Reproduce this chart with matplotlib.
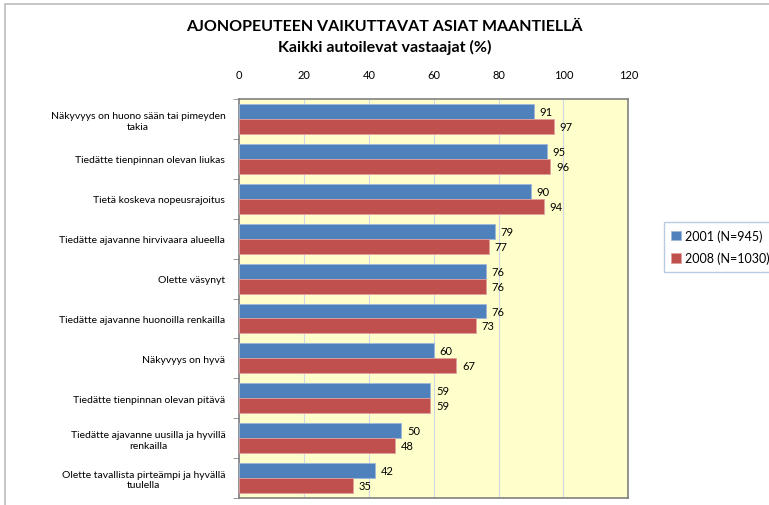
import matplotlib.pyplot as plt
import numpy as np

plt.rcParams['font.family'] = ['Lato', 'DejaVu Sans']

# data
categories = ['Näkyvyys on huono sään tai pimeyden\ntakia',
              'Tiedätte tienpinnan olevan liukas',
              'Tietä koskeva nopeusrajoitus',
              'Tiedätte ajavanne hirvivaara alueella',
              'Olette väsynyt',
              'Tiedätte ajavanne huonoilla renkailla',
              'Näkyvyys on hyvä',
              'Tiedätte tienpinnan olevan pitävä',
              'Tiedätte ajavanne uusilla ja hyvillä\nrenkailla',
              'Olette tavallista pirteämpi ja hyvällä\ntuulella']
values_2001 = [91, 95, 90, 79, 76, 76, 60, 59, 50, 42]
values_2008 = [97, 96, 94, 77, 76, 73, 67, 59, 48, 35]
series_names = ['2001 (N=945)', '2008 (N=1030)']
xticks = [0, 20, 40, 60, 80, 100, 120]

fig = plt.figure(figsize=(7.69, 5.06), dpi=100)
ax = fig.add_axes([0.311, 0.014, 0.506, 0.788])

y = np.arange(len(categories))
h = 0.375
b1 = ax.barh(y - h / 2, values_2001, height=h, color='#4F81BD',
             edgecolor='#9DB9DC', linewidth=0.6, label=series_names[0], zorder=3)
b2 = ax.barh(y + h / 2, values_2008, height=h, color='#C0504D',
             edgecolor='#E0A09E', linewidth=0.6, label=series_names[1], zorder=3)
ax.bar_label(b1, padding=4, fontsize=8)
ax.bar_label(b2, padding=4, fontsize=8)

ax.set_xlim(0, 120)
ax.set_ylim(len(categories) - 0.5, -0.5)
ax.set_xticks(xticks)
ax.xaxis.tick_top()
ax.tick_params(axis='x', length=0, labelsize=8, pad=14)
ax.set_yticks(y)
ax.set_yticklabels(categories, fontsize=7.5, ha='right', multialignment='center')
ax.set_yticks(np.arange(len(categories) + 1) - 0.5, minor=True)
ax.tick_params(axis='y', which='minor', length=4, color='#888888')
ax.tick_params(axis='y', which='major', length=0, pad=10)
ax.set_facecolor('#FFFFCC')
ax.grid(axis='x', color='#D0D8E8', linewidth=0.8, zorder=0)
for s in ax.spines.values():
    s.set_color('#808080')
    s.set_linewidth(1.2)

fig.suptitle('AJONOPEUTEEN VAIKUTTAVAT ASIAT MAANTIELLÄ\nKaikki autoilevat vastaajat (%)',
             fontsize=11.5, fontweight='bold', y=0.96, linespacing=1.45)

leg = fig.legend(loc='center left', bbox_to_anchor=(0.855, 0.51), fontsize=9,
                 frameon=True, fancybox=False, handlelength=0.8, handleheight=0.8,
                 handletextpad=0.3, borderpad=0.6, labelspacing=0.8)
leg.get_frame().set_edgecolor('#A6BFDD')

fig.patches.append(plt.Rectangle((0.006, -0.1), 1.1, 1.09, transform=fig.transFigure,
                                 fill=False, edgecolor='#BBBBBB', linewidth=1.2))

fig.savefig('out.png', dpi=100)
